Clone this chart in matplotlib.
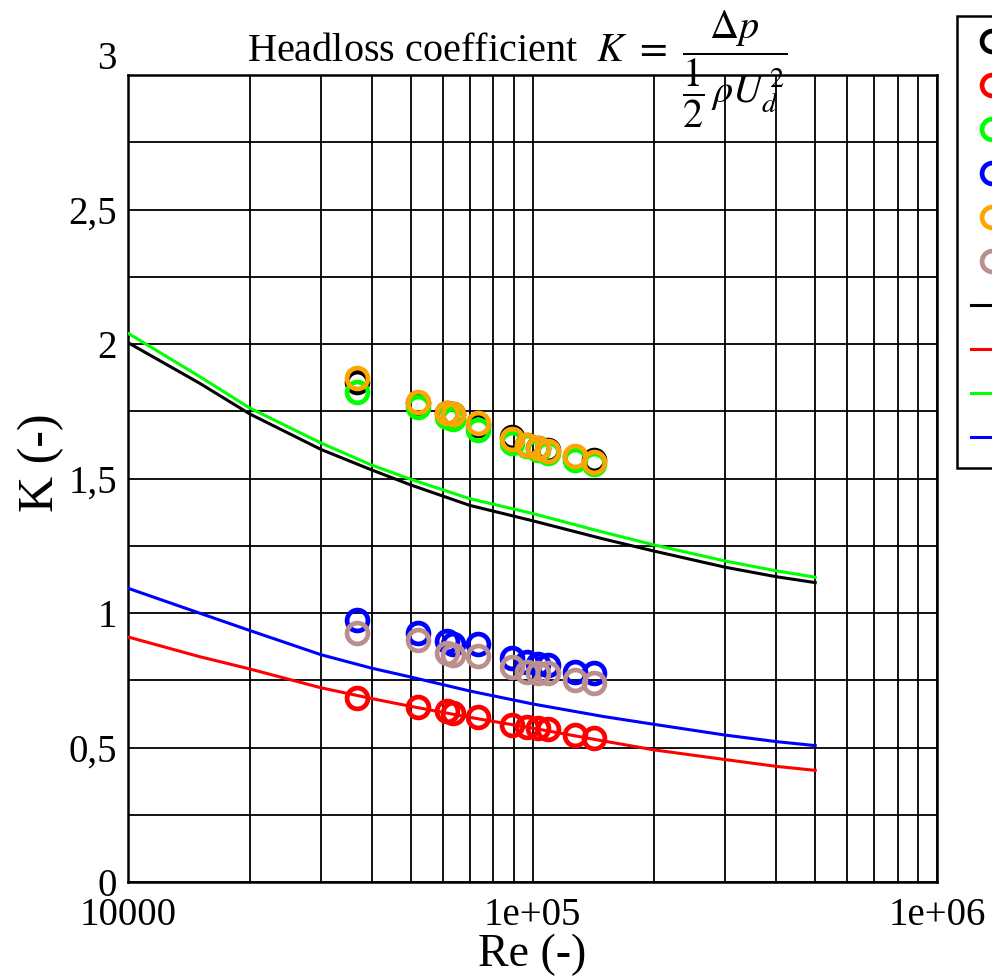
import matplotlib
matplotlib.use("Agg")
import matplotlib.pyplot as plt
from matplotlib.lines import Line2D
from matplotlib.ticker import FixedLocator, FuncFormatter
from matplotlib.transforms import ScaledTranslation

plt.rcParams['font.family'] = ['Liberation Serif', 'DejaVu Serif']
plt.rcParams['mathtext.fontset'] = 'stix'

# Correlation curves K(Re)
re_curve = [1e4, 1.5e4, 2e4, 3e4, 4e4, 5e4, 7e4, 1e5, 1.5e5, 2e5, 3e5, 4e5, 5e5]
k_curve_black = [2.005, 1.855, 1.740, 1.608, 1.532, 1.476, 1.400, 1.343, 1.275, 1.230, 1.170, 1.135, 1.113]
k_curve_green = [2.040, 1.880, 1.762, 1.632, 1.550, 1.497, 1.425, 1.370, 1.300, 1.253, 1.193, 1.157, 1.133]
k_curve_blue = [1.092, 1.000, 0.935, 0.845, 0.795, 0.762, 0.710, 0.662, 0.615, 0.586, 0.546, 0.522, 0.507]
k_curve_red = [0.911, 0.838, 0.792, 0.722, 0.682, 0.653, 0.612, 0.572, 0.524, 0.491, 0.455, 0.430, 0.415]

# Measured points
re_meas = [3.68e4, 5.21e4, 6.15e4, 6.36e4, 7.33e4, 8.90e4, 9.69e4, 1.032e5, 1.092e5, 1.274e5, 1.419e5]
k_meas_black = [1.860, 1.780, 1.745, 1.740, 1.700, 1.655, 1.625, 1.615, 1.605, 1.580, 1.568]
k_meas_red = [0.685, 0.652, 0.635, 0.628, 0.612, 0.582, 0.578, 0.572, 0.568, 0.548, 0.536]
k_meas_green = [1.820, 1.765, 1.730, 1.720, 1.680, 1.632, 1.620, 1.605, 1.595, 1.567, 1.553]
k_meas_blue = [0.974, 0.924, 0.895, 0.885, 0.885, 0.831, 0.819, 0.812, 0.807, 0.781, 0.776]
k_meas_orange = [1.875, 1.785, 1.745, 1.740, 1.705, 1.648, 1.625, 1.612, 1.603, 1.585, 1.562]
k_meas_brown = [0.924, 0.900, 0.852, 0.845, 0.840, 0.800, 0.781, 0.778, 0.776, 0.751, 0.738]

x_ticks = [1e4, 1e5, 1e6]
x_tick_labels = ["10000", "1e+05", "1e+06"]
y_ticks = [0, 0.5, 1, 1.5, 2, 2.5, 3]

meas_series = [
    (k_meas_black, "black"),
    (k_meas_red, "#ff0000"),
    (k_meas_green, "#00ff00"),
    (k_meas_blue, "#0000ff"),
    (k_meas_orange, "#ffa500"),
    (k_meas_brown, "#bc8f8f"),
]
curve_series = [
    (k_curve_black, "black"),
    (k_curve_red, "#ff0000"),
    (k_curve_green, "#00ff00"),
    (k_curve_blue, "#0000ff"),
]

fig = plt.figure(figsize=(9.92, 9.80), dpi=100)
ax = fig.add_axes([128 / 992, 1 - 882 / 980, 809 / 992, 807 / 980])

ax.set_xscale("log")
ax.set_xlim(1e4, 1e6)
ax.set_ylim(0, 3)

marker_kw = dict(marker="o", markersize=15, markerfacecolor="none",
                 markeredgewidth=3.4, linestyle="none")

for k, c in curve_series:
    ax.plot(re_curve, k, color=c, lw=2.2, zorder=3)
for k, c in meas_series:
    ax.plot(re_meas, k, color=c, markeredgecolor=c, zorder=4, **marker_kw)

# grid and ticks
ax.xaxis.set_major_locator(FixedLocator(x_ticks))
ax.xaxis.set_major_formatter(FuncFormatter(lambda v, p: x_tick_labels[x_ticks.index(v)] if v in x_ticks else ""))
minor_x = [m * 10 ** e for e in (4, 5) for m in range(2, 10)]
ax.xaxis.set_minor_locator(FixedLocator(minor_x))
ax.yaxis.set_major_locator(FixedLocator(y_ticks))
ax.yaxis.set_major_formatter(FuncFormatter(lambda v, p: f"{v:g}".replace(".", ",")))
ax.yaxis.set_minor_locator(FixedLocator([0.25, 0.75, 1.25, 1.75, 2.25, 2.75]))
ax.grid(which="both", color="black", lw=1.3)
ax.set_axisbelow(True)
ax.tick_params(which="both", length=0)
ax.tick_params(axis="y", labelsize=28, pad=8)
ax.tick_params(axis="x", labelsize=28, pad=11)
for s in ax.spines.values():
    s.set_linewidth(1.8)

# the top y label sits above the frame
fig.canvas.draw()
top_label = ax.yaxis.get_major_ticks()[-1].label1
top_label.set_transform(top_label.get_transform() + ScaledTranslation(0, 0.2, fig.dpi_scale_trans))

ax.set_xlabel("Re (-)", fontsize=33)
ax.set_ylabel("K (-)", fontsize=36)
ax.xaxis.set_label_coords(0.5, -0.064)
ax.yaxis.set_label_coords(-0.079, 0.52)

fig.text(247 / 992, 1 - 62 / 980,
         r"Headloss coefficient  $K\ =\ \dfrac{\Delta p}{\dfrac{1}{2}\,\rho U_d^{\,2}}$",
         fontsize=29, ha="left", va="baseline")

handles = [Line2D([], [], color=c, markeredgecolor=c, **marker_kw) for _, c in meas_series]
handles += [Line2D([], [], color=c, lw=2.2) for _, c in curve_series]
leg = fig.legend(handles, [""] * len(handles), loc="upper left",
                 bbox_to_anchor=(957 / 992, 1 - 16 / 980), fontsize=20,
                 handlelength=1.5, handleheight=1.0, labelspacing=0.58,
                 borderpad=0.5, fancybox=False, framealpha=1, borderaxespad=0)
leg.get_frame().set_edgecolor("black")
leg.get_frame().set_linewidth(1.8)

fig.savefig("out.png", dpi=100)
